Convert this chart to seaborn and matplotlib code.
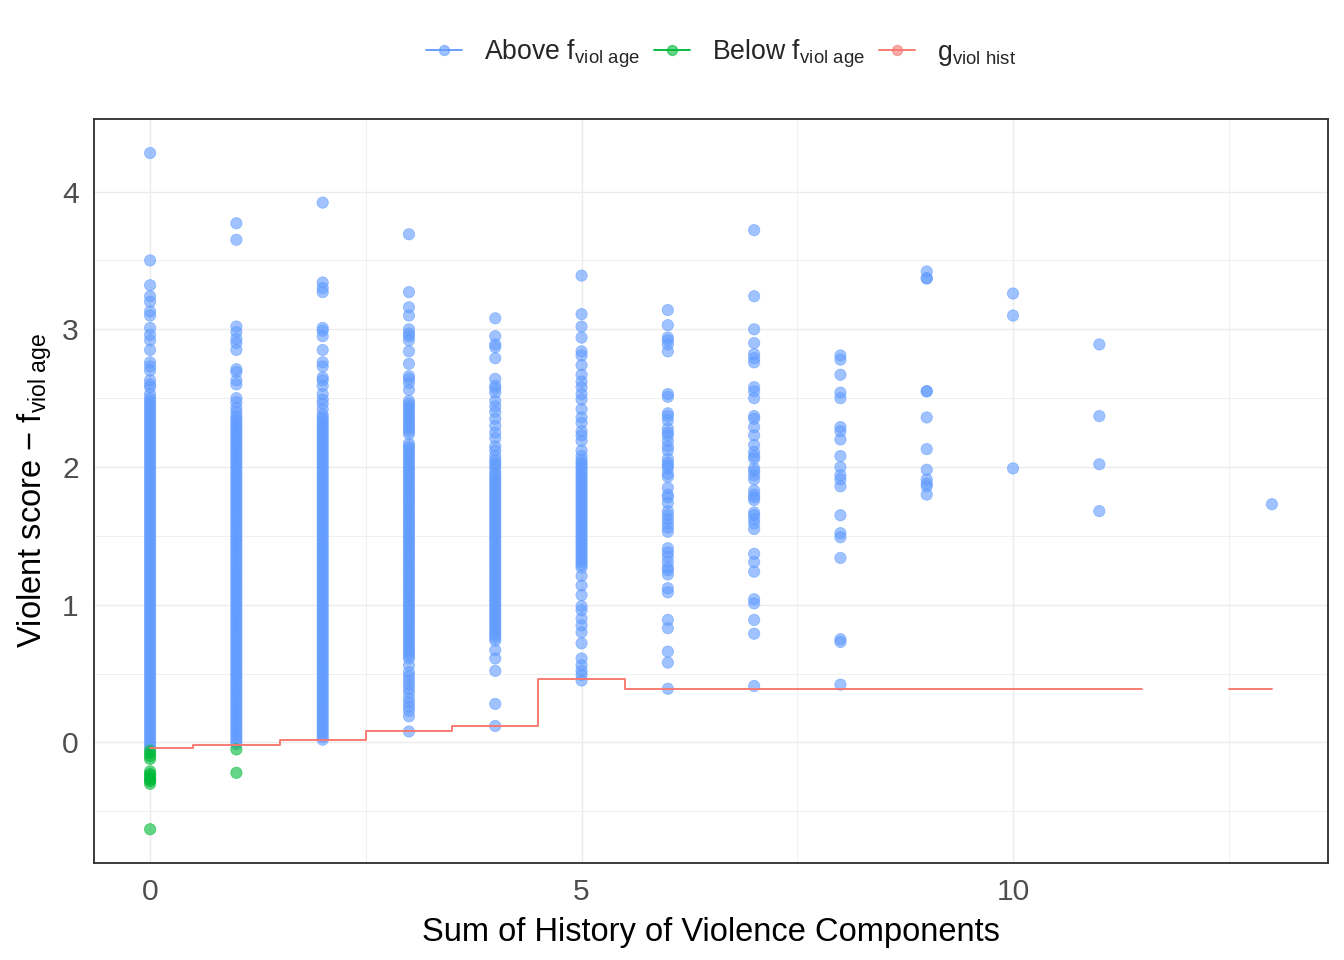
import numpy as np
import pandas as pd
import matplotlib
matplotlib.use('Agg')
import matplotlib.pyplot as plt
from matplotlib.lines import Line2D
import seaborn as sns

# scores above f_viol_age, one list per history-of-violence sum
above_0 = [4.28, 3.50, 3.32, 3.24, 3.20, 3.13, 3.10, 3.01, 2.96, 2.92, 2.85, 2.76, 2.73, 2.70,
           2.63, 2.60, 2.58, 2.53,
           2.50, 2.48, 2.46, 2.44, 2.42, 2.40, 2.38, 2.36, 2.34, 2.32, 2.30, 2.28, 2.26, 2.24,
           2.22, 2.20, 2.18, 2.16, 2.14, 2.12, 2.10, 2.08, 2.06, 2.04, 2.02, 2.00, 1.98, 1.96,
           1.94, 1.92, 1.90, 1.88, 1.86, 1.84, 1.82, 1.80, 1.78, 1.76, 1.74, 1.72, 1.70, 1.68,
           1.66, 1.64, 1.62, 1.60, 1.58, 1.56, 1.54, 1.52, 1.50, 1.48, 1.46, 1.44, 1.42, 1.40,
           1.38, 1.36, 1.34, 1.32, 1.30, 1.28, 1.26, 1.24, 1.22, 1.20, 1.18, 1.16, 1.14, 1.12,
           1.10, 1.08, 1.06, 1.04, 1.02, 1.00, 0.98, 0.96, 0.94, 0.92, 0.90, 0.88, 0.86, 0.84,
           0.82, 0.80, 0.78, 0.76, 0.74, 0.72, 0.70, 0.68, 0.66, 0.64, 0.62, 0.60, 0.58, 0.56,
           0.54, 0.52, 0.50, 0.48, 0.46, 0.44, 0.42, 0.40, 0.38, 0.36, 0.34, 0.32, 0.30, 0.28,
           0.26, 0.24, 0.22, 0.20, 0.18, 0.16, 0.14, 0.12, 0.10, 0.08, 0.06, 0.04, 0.02, 0.00,
           -0.02, -0.04]
above_1 = [3.77, 3.65, 3.02, 2.98, 2.93, 2.90, 2.85, 2.71, 2.69, 2.63, 2.60, 2.50, 2.47, 2.43,
           2.40,
           2.37, 2.35, 2.33, 2.31, 2.29, 2.27, 2.25, 2.23, 2.21, 2.19, 2.17, 2.15, 2.13, 2.11,
           2.09, 2.07, 2.05, 2.03, 2.01, 1.99, 1.97, 1.95, 1.93, 1.91, 1.89, 1.87, 1.85, 1.83,
           1.81, 1.79, 1.77, 1.75, 1.73, 1.71, 1.69, 1.67, 1.65, 1.63, 1.61, 1.59, 1.57, 1.55,
           1.53, 1.51, 1.49, 1.47, 1.45, 1.43, 1.41, 1.39, 1.37, 1.35, 1.33, 1.31, 1.29, 1.27,
           1.25, 1.23, 1.21, 1.19, 1.17, 1.15, 1.13, 1.11, 1.09, 1.07, 1.05, 1.03, 1.01, 0.99,
           0.97, 0.95, 0.93, 0.91, 0.89, 0.87, 0.85, 0.83, 0.81, 0.79, 0.77, 0.75, 0.73, 0.71,
           0.69, 0.67, 0.65, 0.63, 0.61, 0.59, 0.57, 0.55, 0.53, 0.51, 0.49, 0.47, 0.45, 0.43,
           0.41, 0.39, 0.37, 0.35, 0.33, 0.31, 0.29, 0.27, 0.25, 0.23, 0.21, 0.19, 0.17, 0.15,
           0.13, 0.11, 0.09, 0.07, 0.05, 0.03, 0.01, -0.01]
above_2 = [3.92, 3.34, 3.30, 3.27, 3.01, 2.99, 2.95, 2.85, 2.76, 2.73, 2.65, 2.63, 2.59, 2.53,
           2.49, 2.46, 2.42,
           2.38, 2.36, 2.34, 2.32, 2.30, 2.28, 2.26, 2.24, 2.22, 2.20, 2.18, 2.16, 2.14, 2.12,
           2.10, 2.08, 2.06, 2.04, 2.02, 2.00, 1.98, 1.96, 1.94, 1.92, 1.90, 1.88, 1.86, 1.84,
           1.82, 1.80, 1.78, 1.76, 1.74, 1.72, 1.70, 1.68, 1.66, 1.64, 1.62, 1.60, 1.58, 1.56,
           1.54, 1.52, 1.50, 1.48, 1.46, 1.44, 1.42, 1.40, 1.38, 1.36, 1.34, 1.32, 1.30, 1.28,
           1.26, 1.24, 1.22, 1.20, 1.18, 1.16, 1.14, 1.12, 1.10, 1.08, 1.06, 1.04, 1.02, 1.00,
           0.98, 0.96, 0.94, 0.92, 0.90, 0.88, 0.86, 0.84, 0.82, 0.80, 0.78, 0.76, 0.74, 0.72,
           0.70, 0.68, 0.66, 0.64, 0.62, 0.60, 0.58, 0.56, 0.54, 0.52, 0.50, 0.48, 0.46, 0.44,
           0.42, 0.40, 0.38, 0.36, 0.34, 0.32, 0.30, 0.28, 0.26, 0.24, 0.22, 0.20, 0.18, 0.16,
           0.14, 0.12, 0.10, 0.08, 0.06, 0.04, 0.02]
above_3 = [3.69, 3.27, 3.16, 3.10, 3.00, 2.97, 2.95, 2.92, 2.84, 2.75, 2.66, 2.64, 2.61, 2.56,
           2.48, 2.46, 2.44, 2.42, 2.40, 2.38, 2.36, 2.34, 2.32, 2.30, 2.28, 2.26, 2.24, 2.17,
           2.15, 2.13, 2.11, 2.09, 2.07, 2.05, 2.03, 2.01, 1.99, 1.97, 1.95, 1.93, 1.91, 1.89,
           1.87, 1.85, 1.83, 1.81, 1.79, 1.77, 1.75, 1.73, 1.71, 1.69, 1.67, 1.65, 1.63, 1.61,
           1.59, 1.57, 1.55, 1.53, 1.51, 1.49, 1.47, 1.45, 1.43, 1.41, 1.39, 1.37, 1.35, 1.33,
           1.31, 1.29, 1.27, 1.25, 1.23, 1.21, 1.19, 1.17, 1.15, 1.13, 1.11, 1.09, 1.07, 1.05,
           1.03, 1.01, 0.99, 0.97, 0.95, 0.93, 0.91, 0.89, 0.87, 0.85, 0.83, 0.81, 0.79, 0.77,
           0.75, 0.73, 0.71, 0.69, 0.67, 0.65, 0.63, 0.61,
           0.56, 0.51, 0.48, 0.45, 0.42, 0.39, 0.36, 0.32, 0.29, 0.26, 0.23, 0.19, 0.08]
above_4 = [3.08, 2.95, 2.89, 2.87, 2.79, 2.64, 2.59, 2.57, 2.54, 2.48, 2.44, 2.40, 2.35, 2.30,
           2.25, 2.21, 2.15, 2.12, 2.08, 2.05, 2.03, 2.01, 1.99, 1.96, 1.94,
           1.92, 1.90, 1.88, 1.86, 1.84, 1.82, 1.80, 1.78, 1.76, 1.74, 1.72, 1.70, 1.68, 1.66,
           1.64, 1.62, 1.60, 1.58, 1.56, 1.54, 1.52, 1.50, 1.48, 1.46, 1.44, 1.42, 1.40, 1.38,
           1.36, 1.34, 1.32, 1.30, 1.28, 1.26, 1.24, 1.22, 1.20, 1.18, 1.16, 1.14, 1.12, 1.10,
           1.08, 1.06, 1.04, 1.02, 1.00, 0.98, 0.96, 0.94, 0.92, 0.90, 0.88, 0.86, 0.84, 0.82,
           0.80, 0.78, 0.76, 0.74, 0.67, 0.61, 0.52, 0.28, 0.12]
above_5 = [3.39, 3.11, 3.02, 2.94, 2.84, 2.81, 2.74, 2.67, 2.62, 2.58, 2.53, 2.49, 2.42, 2.36,
           2.32, 2.26, 2.23, 2.19, 2.12, 2.08,
           2.05, 2.03, 2.01, 1.99, 1.97, 1.95, 1.93, 1.91, 1.89, 1.87, 1.85, 1.83, 1.81, 1.79,
           1.77, 1.75, 1.73, 1.71, 1.69, 1.67, 1.65, 1.63, 1.61, 1.59, 1.57, 1.55, 1.53, 1.51,
           1.49, 1.47, 1.45, 1.43, 1.41, 1.39, 1.37, 1.35, 1.33, 1.31, 1.29, 1.27,
           1.21, 1.14, 1.07, 0.99, 0.96, 0.90, 0.85, 0.80, 0.72, 0.61, 0.56, 0.52, 0.49, 0.45]
above_6 = [3.14, 3.03, 2.94, 2.92, 2.89, 2.84, 2.53, 2.51, 2.39, 2.37, 2.34, 2.28, 2.25, 2.23,
           2.19, 2.15, 2.12, 2.06, 2.03, 2.01, 1.99, 1.95, 1.93, 1.85, 1.80, 1.78, 1.74, 1.68,
           1.65, 1.62, 1.59, 1.56, 1.53, 1.41, 1.38, 1.35, 1.31, 1.27, 1.25, 1.22, 1.12, 1.09,
           0.89, 0.83, 0.66, 0.58, 0.39]
above_7 = [3.72, 3.24, 3.00, 2.90, 2.82, 2.79, 2.76, 2.58, 2.55, 2.50, 2.37, 2.35, 2.29, 2.23,
           2.16, 2.11, 2.08, 2.06, 1.99, 1.97, 1.94, 1.91, 1.83, 1.80, 1.78, 1.76, 1.67, 1.65,
           1.62, 1.59, 1.55, 1.37, 1.31, 1.24, 1.04, 1.01, 0.89, 0.79, 0.41]
above_8 = [2.81, 2.78, 2.67, 2.54, 2.50, 2.29, 2.26, 2.20, 2.08, 2.00, 1.94, 1.91, 1.86, 1.65,
           1.52, 1.49, 1.34, 0.75, 0.73, 0.42]
above_9 = [3.42, 3.37, 3.37, 2.55, 2.55, 2.36, 2.13, 1.98, 1.91, 1.88, 1.86, 1.80]
above_10 = [3.26, 3.10, 1.99]
above_11 = [2.89, 2.37, 2.02, 1.68]
above_13 = [1.73]

# scores below f_viol_age
below_0 = [-0.06, -0.08, -0.10, -0.12, -0.21, -0.23, -0.24, -0.26, -0.27, -0.28, -0.30, -0.63]
below_1 = [-0.05, -0.22]

# g_viol_hist step values for each history sum (12 has no value)
hist_levels = [0, 1, 2, 3, 4, 5, 6, 7, 8, 9, 10, 11, 12, 13]
g_viol_hist = [-0.04, -0.02, 0.02, 0.08, 0.12, 0.46, 0.39, 0.39, 0.39, 0.39, 0.39, 0.39,
               np.nan, 0.39]

above_lbl = r'Above f$_{\mathregular{viol\ age}}$'
below_lbl = r'Below f$_{\mathregular{viol\ age}}$'
g_lbl = r'g$_{\mathregular{viol\ hist}}$'

blue, green, red = '#619CFF', '#00BA38', '#F8766D'

above = {0: above_0, 1: above_1, 2: above_2, 3: above_3, 4: above_4, 5: above_5, 6: above_6,
         7: above_7, 8: above_8, 9: above_9, 10: above_10, 11: above_11, 13: above_13}
below = {0: below_0, 1: below_1}
rows = []
for k, vals in above.items():
    rows += [(k, v, 'Above') for v in vals]
for k, vals in below.items():
    rows += [(k, v, 'Below') for v in vals]
df = pd.DataFrame(rows, columns=['hist', 'score', 'group'])

sns.set_style('white')
plt.rcParams['font.family'] = ['Liberation Sans', 'DejaVu Sans']
plt.rcParams['mathtext.fontset'] = 'custom'
plt.rcParams['mathtext.rm'] = 'Liberation Sans'
plt.rcParams['mathtext.it'] = 'Liberation Sans:italic'

fig = plt.figure(figsize=(14, 10), dpi=96)
ax = fig.add_axes([94 / 1344, 1 - 863 / 960, (1328 - 94) / 1344, (863 - 119) / 960])

sns.scatterplot(data=df, x='hist', y='score', hue='group', hue_order=['Above', 'Below'],
                palette=[blue, green], alpha=0.6, s=72, edgecolor='face', linewidth=0.6,
                ax=ax, zorder=3)
ax.step(hist_levels, g_viol_hist, where='mid', color=red, lw=1.4, zorder=5)
ax.get_legend().remove()

ax.set_xlim(-0.65, 13.65)
ax.set_ylim(-0.875, 4.527)
ax.set_xticks([0, 5, 10])
ax.set_xticks([2.5, 7.5, 12.5], minor=True)
ax.set_yticks([0, 1, 2, 3, 4])
ax.set_yticks([-0.5, 0.5, 1.5, 2.5, 3.5], minor=True)
ax.grid(which='major', color='#EBEBEB', lw=1.0)
ax.grid(which='minor', color='#EBEBEB', lw=0.55)
ax.set_axisbelow(True)
ax.tick_params(which='major', length=4.5, width=1.1, color='#333333', labelsize=22.5,
               labelcolor='#4D4D4D', pad=7)
ax.tick_params(which='minor', length=0)
for sp in ax.spines.values():
    sp.set_color('#333333')
    sp.set_linewidth(1.4)

ax.set_xlabel('Sum of History of Violence Components', fontsize=24.5, color='black', labelpad=8)
ax.set_ylabel(r'Violent score − f$_{\mathregular{viol\ age}}$', fontsize=24.5, color='black',
              labelpad=6)

handles = [
    Line2D([0], [0], color=blue, lw=1.4, marker='o', markersize=7.5,
           markerfacecolor=(0.38, 0.61, 1.0, 0.6), markeredgecolor=(0.38, 0.61, 1.0, 0.6)),
    Line2D([0], [0], color=green, lw=1.4, marker='o', markersize=7.5,
           markerfacecolor=(0.0, 0.73, 0.22, 0.6), markeredgecolor=(0.0, 0.73, 0.22, 0.6)),
    Line2D([0], [0], color=red, lw=1.4, marker='o', markersize=7.5,
           markerfacecolor=(0.97, 0.46, 0.43, 0.6), markeredgecolor=(0.97, 0.46, 0.43, 0.6)),
]
fig.legend(handles, [above_lbl, below_lbl, g_lbl], loc='center', ncol=3,
           bbox_to_anchor=(721 / 1344, 1 - 54 / 960), frameon=False, fontsize=20,
           handlelength=1.35, handletextpad=0.8, columnspacing=0.55)

fig.savefig('out.png', dpi=96)
